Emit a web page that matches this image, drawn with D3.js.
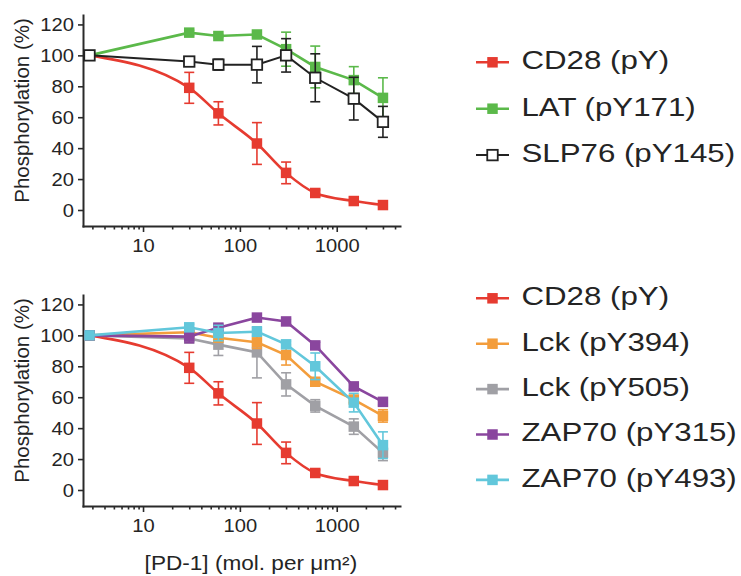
<!DOCTYPE html>
<html>
<head>
<meta charset="utf-8">
<script src="https://cdn.jsdelivr.net/npm/d3@7"></script>
<style>
  body { margin: 0; background: #fff; }
  svg { display: block; font-family: "Liberation Sans", Arial, Helvetica, sans-serif; }
</style>
</head>
<body>
<svg id="chart" width="741" height="576"></svg>
<script>
// PD-1 concentration (mol. per um2)
const conc = [2.8, 30, 60, 150, 300, 600, 1500, 3000];

// phosphorylation (%) and error bars
const cd28 = [100, 79, 62.5, 43, 24, 11, 5.8, 3.2];
const cd28Err = [0, 10, 7.5, 13.5, 7, 2, 1, 1];
const lat = [100, 114.7, 112.5, 113.5, 104, 92.5, 84, 72.5];
const latErr = [0, 1.5, 1, 1.5, 11, 13.5, 8.7, 13];
const slp76 = [100, 96, 94, 94, 100, 85.5, 72, 57];
const slp76Err = [0, 2, 3.5, 11.8, 10.8, 15.5, 13.8, 10];

const lck394 = [100, 102, 98.5, 95.5, 87.3, 70, 58.5, 47.9];
const lck394Err = [0, 1, 1.5, 4, 6.5, 2, 2, 4];
const lck505 = [100, 98, 94, 89, 68.3, 54.4, 41, 24];
const lck505Err = [0, 1.5, 7, 16.5, 7.5, 4, 5, 5];
const zap315 = [100, 99.2, 105, 111.5, 109, 93.5, 67, 57];
const zap315Err = [0, 4, 2, 1.5, 1.5, 2, 2, 2];
const zap493 = [100, 105.2, 101.5, 102.4, 94.2, 80, 56.5, 29];
const zap493Err = [0, 2, 5, 3, 2, 8.6, 6, 8.6];

const yTicks = [0, 20, 40, 60, 80, 100, 120];
const xMajor = [10, 100, 1000];
const xMinor = [3, 4, 5, 6, 7, 8, 9, 20, 30, 40, 50, 60, 70, 80, 90,
                200, 300, 400, 500, 600, 700, 800, 900, 2000, 3000, 4000];

const makeSeries = (name, values, errors, color, extra = {}) =>
  Object.assign({ name, points: conc.map((c, i) => ({ c, v: values[i], e: errors[i] })), color }, extra);

const sCd28 = makeSeries("CD28 (pY)", cd28, cd28Err, "#e63b30", { fit: true });
const sLat = makeSeries("LAT (pY171)", lat, latErr, "#5bb94a");
const sSlp = makeSeries("SLP76 (pY145)", slp76, slp76Err, "#222222", { open: true, width: 2 });
const sLck394 = makeSeries("Lck (pY394)", lck394, lck394Err, "#f39d3c");
const sLck505 = makeSeries("Lck (pY505)", lck505, lck505Err, "#a0a0a5");
const sZap315 = makeSeries("ZAP70 (pY315)", zap315, zap315Err, "#8a469e");
const sZap493 = makeSeries("ZAP70 (pY493)", zap493, zap493Err, "#62c7db");

const svg = d3.select("#chart");
const textColor = "#242424";

const x = d3.scaleLog().domain([2.4, 4500]).range([83, 400]);
const y = d3.scaleLinear().domain([-10.35, 126.1]).range([226, 15]);

const markerSize = 10.5;

function drawPanel(offset, series, legendItems, legendTop, legendStep, showTitle) {
  const g = svg.append("g").attr("transform", `translate(0,${offset})`);

  // y axis
  const yAxis = g.append("g")
    .attr("transform", `translate(${x.range()[0]},0)`)
    .call(d3.axisLeft(y).tickValues(yTicks).tickSize(5).tickSizeOuter(0));
  yAxis.selectAll("text")
    .attr("x", 0)
    .attr("dy", "0.36em")
    .attr("transform", "translate(-9,0) scale(1.12,1)");

  // x axis: minor then major ticks
  const xMinorAxis = g.append("g")
    .attr("transform", `translate(0,${y.range()[0]})`)
    .call(d3.axisBottom(x).tickValues(xMinor).tickSize(3.5).tickSizeOuter(0).tickFormat(""));
  const xAxis = g.append("g")
    .attr("transform", `translate(0,${y.range()[0]})`)
    .call(d3.axisBottom(x).tickValues(xMajor).tickSize(6).tickSizeOuter(0).tickFormat(d3.format("d")));
  xAxis.selectAll("text")
    .attr("y", 0)
    .attr("dy", 0)
    .attr("transform", "translate(0,25.5) scale(1.12,1)");

  [yAxis, xMinorAxis, xAxis].forEach((a) => {
    a.selectAll(".domain").attr("stroke", "#2a2a2a").attr("stroke-width", 2).attr("stroke-linecap", "square");
    a.selectAll(".tick line").attr("stroke", "#2a2a2a").attr("stroke-width", 1.6);
    a.selectAll("text").attr("font-size", 18).attr("fill", textColor).attr("font-family", null);
  });
  xMinorAxis.select(".domain").remove();

  // y title
  g.append("text")
    .attr("transform", `translate(28.5,${(y(-10.35) + y(126.1)) / 2 - 10}) rotate(-90)`)
    .attr("text-anchor", "middle")
    .attr("font-size", 20.5)
    .attr("fill", textColor)
    .text("Phosphorylation (%)");

  if (showTitle) {
    g.append("text")
      .attr("transform", `translate(${(x(10) + x(1000)) / 2 + 11},${y.range()[0] + 63.5}) scale(1.13,1)`)
      .attr("text-anchor", "middle")
      .attr("font-size", 20)
      .attr("fill", textColor)
      .text("[PD-1] (mol. per μm²)");
  }

  const fitLine = d3.line().x((d) => x(d.c)).y((d) => y(d.v)).curve(d3.curveMonotoneX);
  const plainLine = d3.line().x((d) => x(d.c)).y((d) => y(d.v));

  series.forEach((s) => {
    const sg = g.append("g");
    sg.append("path")
      .attr("d", (s.fit ? fitLine : plainLine)(s.points))
      .attr("fill", "none")
      .attr("stroke", s.color)
      .attr("stroke-width", s.width || 2.6);

    const bars = sg.selectAll(".err")
      .data(s.points.filter((d) => d.e > 0))
      .join("g")
      .attr("stroke", s.color)
      .attr("stroke-width", 1.6);
    bars.append("line")
      .attr("x1", (d) => x(d.c)).attr("x2", (d) => x(d.c))
      .attr("y1", (d) => y(d.v - d.e)).attr("y2", (d) => y(d.v + d.e));
    bars.append("line")
      .attr("x1", (d) => x(d.c) - 5).attr("x2", (d) => x(d.c) + 5)
      .attr("y1", (d) => y(d.v + d.e)).attr("y2", (d) => y(d.v + d.e));
    bars.append("line")
      .attr("x1", (d) => x(d.c) - 5).attr("x2", (d) => x(d.c) + 5)
      .attr("y1", (d) => y(d.v - d.e)).attr("y2", (d) => y(d.v - d.e));

    sg.selectAll("rect")
      .data(s.points)
      .join("rect")
      .attr("x", (d) => x(d.c) - markerSize / 2)
      .attr("y", (d) => y(d.v) - markerSize / 2)
      .attr("width", markerSize)
      .attr("height", markerSize)
      .attr("fill", s.open ? "#fff" : s.color)
      .attr("stroke", s.open ? s.color : "none")
      .attr("stroke-width", s.open ? 1.8 : 0);
  });

  // legend
  const lg = svg.append("g").selectAll("g")
    .data(legendItems)
    .join("g")
    .attr("transform", (d, i) => `translate(0,${legendTop + i * legendStep})`);
  lg.append("line")
    .attr("x1", 476).attr("x2", 509)
    .attr("stroke", (d) => d.color)
    .attr("stroke-width", (d) => d.width || 2.6);
  lg.append("rect")
    .attr("x", 492.5 - markerSize / 2)
    .attr("y", -markerSize / 2)
    .attr("width", markerSize)
    .attr("height", markerSize)
    .attr("fill", (d) => (d.open ? "#fff" : d.color))
    .attr("stroke", (d) => (d.open ? d.color : "none"))
    .attr("stroke-width", (d) => (d.open ? 1.8 : 0));
  lg.append("text")
    .attr("transform", "translate(521.5,6.8) scale(1.25,1)")
    .attr("font-size", 25)
    .attr("fill", textColor)
    .text((d) => d.name);
}

drawPanel(0, [sLat, sCd28, sSlp], [sCd28, sLat, sSlp], 62.3, 46.4, false);
drawPanel(280, [sCd28, sLck505, sLck394, sZap315, sZap493],
  [sCd28, sLck394, sLck505, sZap315, sZap493], 298.3, 45.4, true);
</script>
</body>
</html>
